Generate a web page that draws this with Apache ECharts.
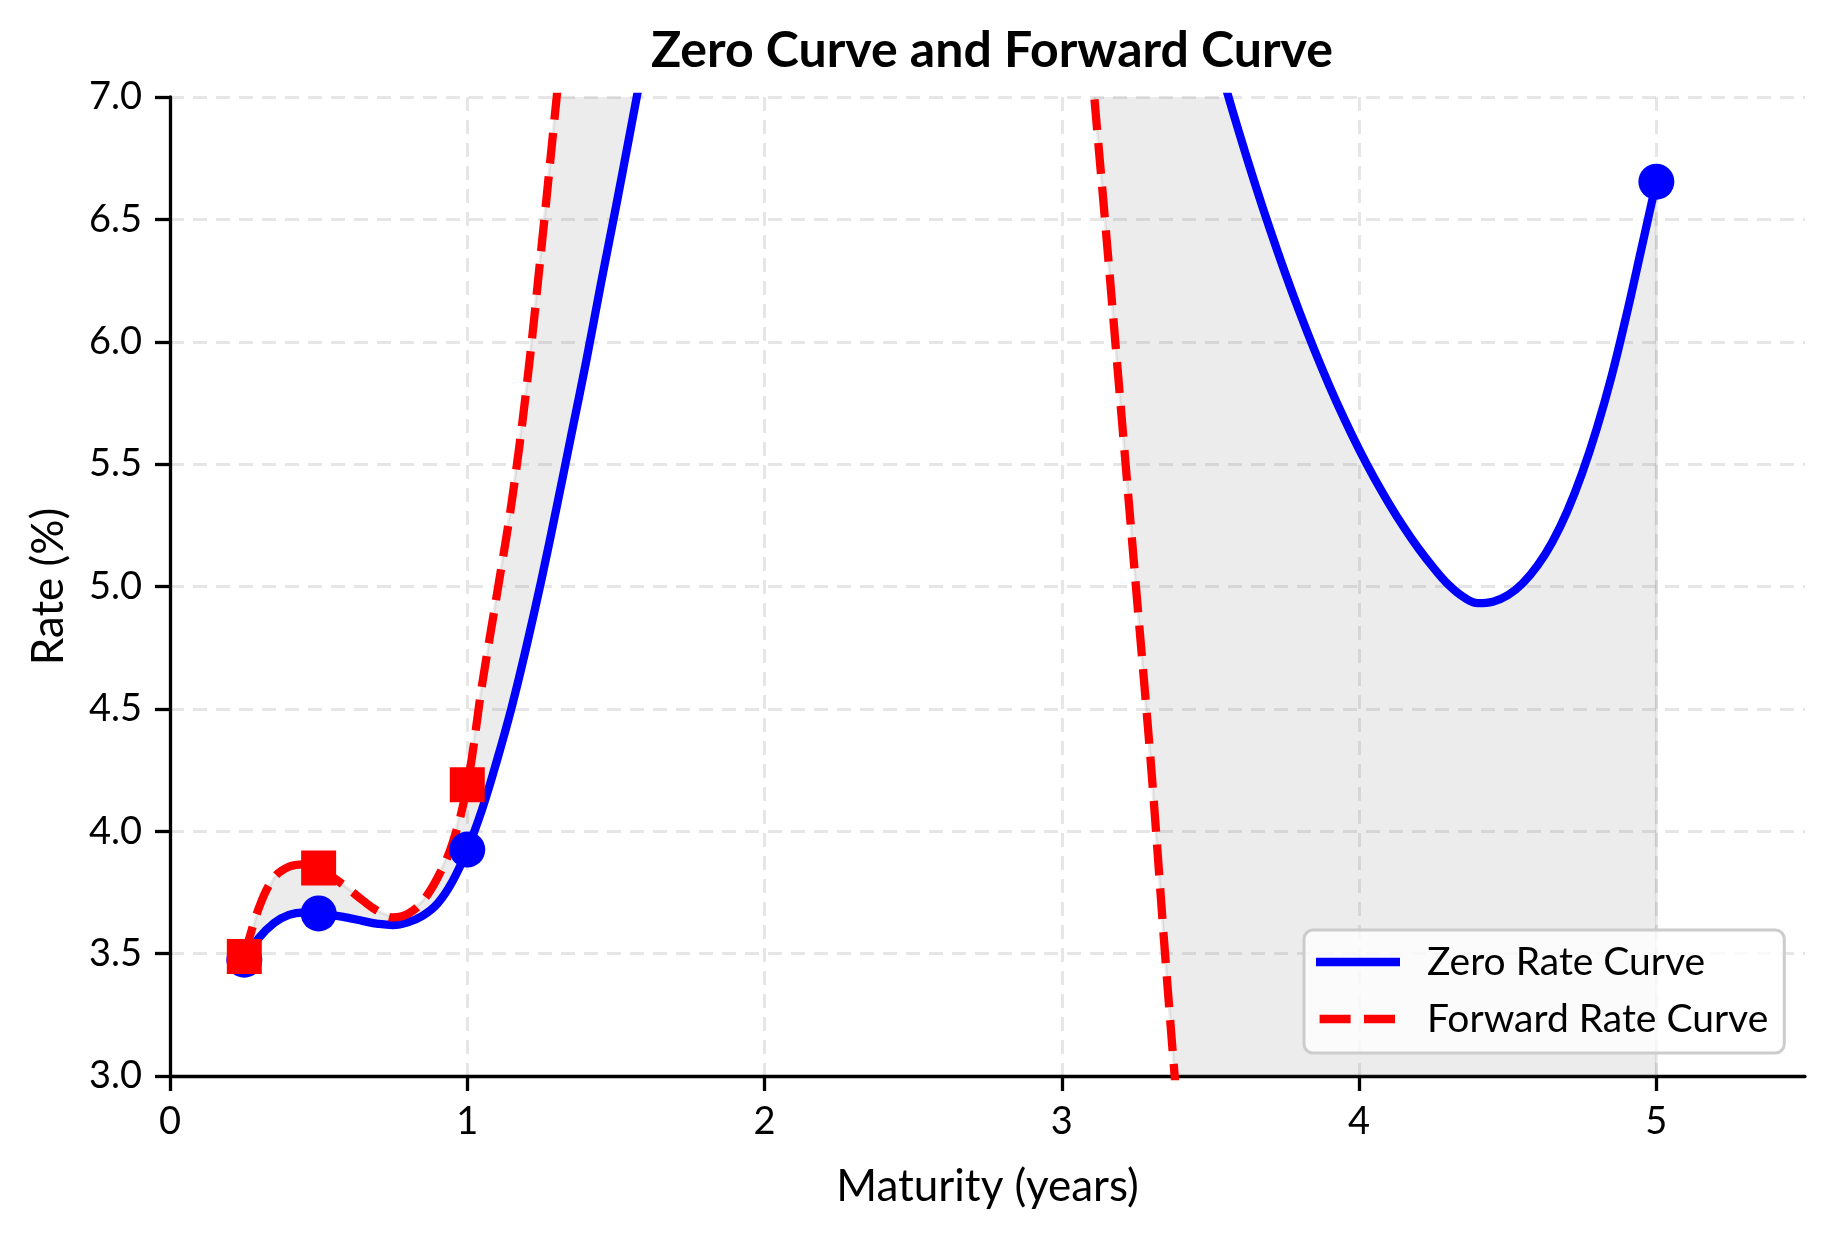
<!DOCTYPE html>
<html>
<head>
<meta charset="utf-8">
<script src="https://cdn.jsdelivr.net/npm/echarts@6/dist/echarts.min.js"></script>
<style>
  html, body { margin: 0; padding: 0; background: #ffffff; }
  #chart { width: 1834px; height: 1234px; }
</style>
</head>
<body>
<div id="chart"></div>
<script>
// Maturity grid (years)
const maturities = [
  0.25,0.30,0.35,0.40,0.45,0.50,0.55,0.60,0.65,0.70,0.75,0.80,0.85,0.90,0.95,1.00,
  1.05,1.10,1.15,1.20,1.25,1.30,1.35,1.40,1.45,1.50,1.55,1.60,1.65,1.70,1.75,1.80,
  1.85,1.90,1.95,2.00,2.05,2.10,2.15,2.20,2.25,2.30,2.35,2.40,2.45,2.50,2.55,2.60,
  2.65,2.70,2.75,2.80,2.85,2.90,2.95,3.00,3.05,3.10,3.15,3.20,3.25,3.30,3.35,3.40,
  3.45,3.50,3.55,3.60,3.65,3.70,3.75,3.80,3.85,3.90,3.95,4.00,4.05,4.10,4.15,4.20,
  4.25,4.30,4.35,4.40,4.45,4.50,4.55,4.60,4.65,4.70,4.75,4.80,4.85,4.90,4.95,5.00
];
// Zero rate curve (%) (values above 7 are off-chart estimates)
const zeroRates = [
  3.475,3.565,3.625,3.658,3.668,3.664,3.656,3.646,3.633,3.622,3.617,3.628,3.655,3.705,3.795,3.925,
  4.090,4.290,4.510,4.760,5.030,5.320,5.620,5.920,6.240,6.550,6.870,7.190,7.490,7.770,8.030,8.270,
  8.490,8.690,8.870,9.030,9.170,9.290,9.390,9.480,9.560,9.620,9.670,9.700,9.720,9.720,9.710,9.680,
  9.630,9.570,9.500,9.420,9.330,9.230,9.120,9.000,8.870,8.730,8.580,8.420,8.250,8.070,7.880,7.680,
  7.470,7.260,7.045,6.840,6.645,6.460,6.285,6.120,5.965,5.820,5.685,5.560,5.445,5.340,5.243,5.155,
  5.077,5.008,4.958,4.932,4.938,4.964,5.013,5.085,5.182,5.307,5.462,5.647,5.862,6.112,6.382,6.654
];
// Forward rate curve (%) (values outside 3..7 are off-chart estimates)
const forwardRates = [
  3.488,3.690,3.810,3.855,3.865,3.850,3.810,3.765,3.716,3.673,3.648,3.662,3.715,3.810,3.950,4.190,
  4.600,4.970,5.350,5.820,6.390,6.990,7.580,8.150,8.700,9.200,9.700,10.20,10.65,11.10,11.50,11.90,
  12.25,12.55,12.85,13.10,13.30,13.50,13.65,13.75,13.80,13.80,13.75,13.65,13.50,13.30,13.05,12.75,
  12.40,12.00,11.55,11.05,10.50,9.900,9.250,8.550,7.850,7.130,6.430,5.710,4.990,4.270,3.455,2.700,
  2.000,1.400,0.900,0.600,0.400,0.300,0.250,0.220,0.200,0.190,0.180,0.180,0.170,0.170,0.160,0.160,
  0.150,0.150,0.150,0.140,0.140,0.140,0.130,0.130,0.130,0.120,0.120,0.120,0.110,0.110,0.110,0.100
];
// Marker points
const zeroMarkerT = [0.25, 0.5, 1.0, 5.0];
const zeroMarkerR = [3.475, 3.664, 3.925, 6.654];
const fwdMarkerT = [0.25, 0.5, 1.0];
const fwdMarkerR = [3.488, 3.850, 4.190];
// Axis ticks
const xTicks = [0, 1, 2, 3, 4, 5];
const yTicks = [3.0, 3.5, 4.0, 4.5, 5.0, 5.5, 6.0, 6.5, 7.0];

const zeroData = maturities.map((t, i) => [t, zeroRates[i]]);
const fwdData = maturities.map((t, i) => [t, forwardRates[i]]);

const FONT = 'Lato';
const chart = echarts.init(document.getElementById('chart'), null, { renderer: 'canvas' });

chart.setOption({
  animation: false,
  backgroundColor: '#ffffff',
  title: {
    text: 'Zero Curve and Forward Curve',
    left: 987,
    textAlign: 'center',
    top: 21,
    textStyle: { fontFamily: FONT, fontWeight: 'bold', fontSize: 50, lineHeight: 50, color: '#000' }
  },
  grid: { left: 170, top: 97, width: 1635, height: 979 },
  legend: {
    data: [
      { name: 'Zero Rate Curve', icon: 'path://M0,0H84V8.3H0Z' },
      { name: 'Forward Rate Curve', icon: 'path://M0,0H0.01V8.3H0ZM3.6,0H34.6V8.3H3.6ZM48,0H79V8.3H48ZM83.99,0H84V8.3H83.99Z' }
    ],
    orient: 'vertical',
    left: 1304,
    top: 930,
    padding: [10, 16, 12, 12],
    itemWidth: 84,
    itemHeight: 44,
    itemGap: 13,
    symbolKeepAspect: true,
    backgroundColor: 'rgba(255,255,255,0.8)',
    borderColor: '#cccccc',
    borderWidth: 3,
    borderRadius: 9,
    textStyle: { fontFamily: FONT, fontSize: 39, lineHeight: 44, color: '#000', padding: [0, 0, 0, 22] }
  },
  xAxis: {
    type: 'value',
    min: 0,
    max: 5.5,
    interval: 1,
    name: 'Maturity (years)',
    nameLocation: 'middle',
    nameGap: 89,
    nameTextStyle: { fontFamily: FONT, fontSize: 44, lineHeight: 44, color: '#000' },
    axisLine: { show: true, onZero: false, lineStyle: { color: '#000', width: 3.3 } },
    axisTick: { show: true, inside: false, length: 15, lineStyle: { color: '#000', width: 3.3 }, customValues: xTicks },
    axisLabel: { fontFamily: FONT, fontSize: 38, lineHeight: 38, color: '#000', margin: 27,
                 customValues: xTicks, formatter: v => String(v) },
    splitLine: { show: true, lineStyle: { color: 'rgba(176,176,176,0.32)', width: 3, type: [14, 9] } }
  },
  yAxis: {
    type: 'value',
    min: 3,
    max: 7,
    interval: 0.5,
    name: 'Rate (%)',
    nameLocation: 'middle',
    nameGap: 99,
    nameTextStyle: { fontFamily: FONT, fontSize: 44, lineHeight: 44, color: '#000' },
    axisLine: { show: true, onZero: false, lineStyle: { color: '#000', width: 3.3 } },
    axisTick: { show: true, inside: false, length: 15, lineStyle: { color: '#000', width: 3.3 } },
    axisLabel: { fontFamily: FONT, fontSize: 38, color: '#000', margin: 28,
                 formatter: v => (yTicks.indexOf(v) >= 0 ? v.toFixed(1) : '') },
    splitLine: { show: true, lineStyle: { color: 'rgba(176,176,176,0.32)', width: 3, type: [14, 9] } }
  },
  series: [
    {
      name: 'Spread Fill',
      type: 'custom',
      data: [[0, 0]],
      silent: true,
      z: 1,
      renderItem: function (params, api) {
        const pts = [];
        for (let i = 0; i < maturities.length; i++) {
          pts.push(api.coord([maturities[i], forwardRates[i]]));
        }
        for (let i = maturities.length - 1; i >= 0; i--) {
          pts.push(api.coord([maturities[i], zeroRates[i]]));
        }
        const cs = params.coordSys;
        return {
          type: 'polygon',
          shape: { points: pts },
          style: { fill: 'rgba(128,128,128,0.15)', stroke: 'rgba(128,128,128,0.15)', lineWidth: 3 },
          clipPath: { type: 'rect', shape: { x: cs.x, y: cs.y, width: cs.width, height: cs.height } }
        };
      }
    },
    {
      name: 'Zero Rate Curve',
      type: 'line',
      data: zeroData,
      smooth: 0.4,
      symbol: 'none',
      clip: true,
      color: '#0000ff',
      lineStyle: { color: '#0000ff', width: 8.3, cap: 'butt', join: 'round' },
      itemStyle: { color: '#0000ff' },
      z: 3
    },
    {
      name: 'Forward Rate Curve',
      type: 'line',
      data: fwdData,
      smooth: 0.4,
      symbol: 'none',
      clip: true,
      color: '#ff0000',
      lineStyle: { color: '#ff0000', width: 8.3, type: [31, 13], cap: 'butt' },
      itemStyle: { color: '#ff0000' },
      z: 4
    },
    {
      name: 'Zero Points',
      type: 'scatter',
      data: zeroMarkerT.map((t, i) => [t, zeroMarkerR[i]]),
      symbol: 'circle',
      symbolSize: 36,
      itemStyle: { color: '#0000ff', opacity: 1 },
      clip: false,
      z: 5
    },
    {
      name: 'Forward Points',
      type: 'scatter',
      data: fwdMarkerT.map((t, i) => [t, fwdMarkerR[i]]),
      symbol: 'rect',
      symbolSize: 35,
      itemStyle: { color: '#ff0000', opacity: 1 },
      clip: false,
      z: 6
    }
  ]
});
</script>
</body>
</html>
